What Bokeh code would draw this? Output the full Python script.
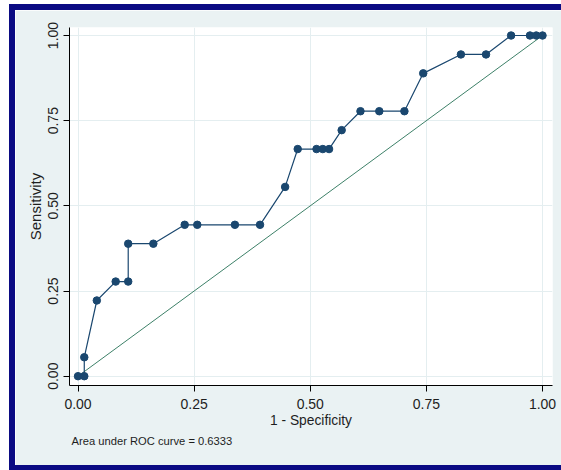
from bokeh.plotting import figure
from bokeh.models import Range1d, FixedTicker, Title
from bokeh.embed import file_html
from bokeh.resources import INLINE

# ROC data (1 - specificity, sensitivity)
fpr = [0.0, 0.0135, 0.0135, 0.0405, 0.0811, 0.1081, 0.1081, 0.1622, 0.2297,
       0.2568, 0.3378, 0.3919, 0.4459, 0.4730, 0.5135, 0.5270, 0.5405, 0.5676,
       0.6081, 0.6486, 0.7027, 0.7432, 0.8243, 0.8784, 0.9324, 0.9730, 0.9865, 1.0]
tpr = [0.0, 0.0, 0.0556, 0.2222, 0.2778, 0.2778, 0.3889, 0.3889, 0.4444,
       0.4444, 0.4444, 0.4444, 0.5556, 0.6667, 0.6667, 0.6667, 0.6667, 0.7222,
       0.7778, 0.7778, 0.7778, 0.8889, 0.9444, 0.9444, 1.0, 1.0, 1.0, 1.0]
ref_x = [0.0, 1.0]
ref_y = [0.0, 1.0]
ticks = [0.0, 0.25, 0.5, 0.75, 1.0]
tick_labels = ["0.00", "0.25", "0.50", "0.75", "1.00"]
auc = "0.6333"

FONT = "Liberation Sans"
NAVY = "#0b0b83"
BG = "#eaf2f3"
TXT = "#1e1e1e"

p = figure(width=546, height=455, output_backend="svg", toolbar_location=None,
           x_range=Range1d(-0.0183, 1.0215), y_range=Range1d(-0.0273, 1.0235),
           min_border_left=54, min_border_right=15, min_border_top=17,
           min_border_bottom=91)
p.styles = {"box-sizing": "content-box", "margin-top": "4px", "margin-left": "9px",
            "border-top": f"6px solid {NAVY}", "border-left": f"6px solid {NAVY}",
            "border-bottom": f"5px solid {NAVY}"}
p.border_fill_color = BG
p.background_fill_color = "white"
p.outline_line_color = None

for ax in (p.xaxis[0], p.yaxis[0]):
    ax.ticker = FixedTicker(ticks=ticks)
    ax.major_label_overrides = {t: l for t, l in zip(ticks, tick_labels)}
    ax.axis_line_color = "black"
    ax.major_tick_line_color = "black"
    ax.major_tick_out = 6
    ax.major_tick_in = 0
    ax.minor_tick_line_color = None
    ax.major_label_text_font = FONT
    ax.major_label_text_font_size = "14px"
    ax.major_label_text_color = TXT
    ax.axis_label_text_font = FONT
    ax.axis_label_text_font_style = "normal"
    ax.axis_label_text_color = TXT

p.xaxis.axis_label = "1 - Specificity"
p.xaxis.axis_label_text_font_size = "13.8px"
p.xaxis.axis_label_standoff = 1
p.xaxis.major_label_standoff = 7
p.yaxis.axis_label = "Sensitivity"
p.yaxis.axis_label_text_font_size = "15px"
p.yaxis.axis_label_standoff = 2
p.yaxis.major_label_orientation = "vertical"
p.yaxis.major_label_standoff = 5

p.xgrid.ticker = FixedTicker(ticks=ticks)
p.ygrid.ticker = FixedTicker(ticks=ticks)
p.grid.grid_line_color = "#e4eef0"
p.grid.grid_line_width = 1

p.line(ref_x, ref_y, line_color="#3d8068", line_width=1)
p.line(fpr, tpr, line_color="#1a476f", line_width=1.2)
p.scatter(fpr, tpr, size=7.5, fill_color="#1a476f", line_color="#1a476f")

note = Title(text=f"Area under ROC curve = {auc}", align="left", offset=2,
             text_font=FONT, text_font_size="11.2px", text_font_style="normal",
             text_color=TXT, standoff=4)
p.add_layout(note, "below")

open("out.html", "w").write(file_html(p, INLINE))
